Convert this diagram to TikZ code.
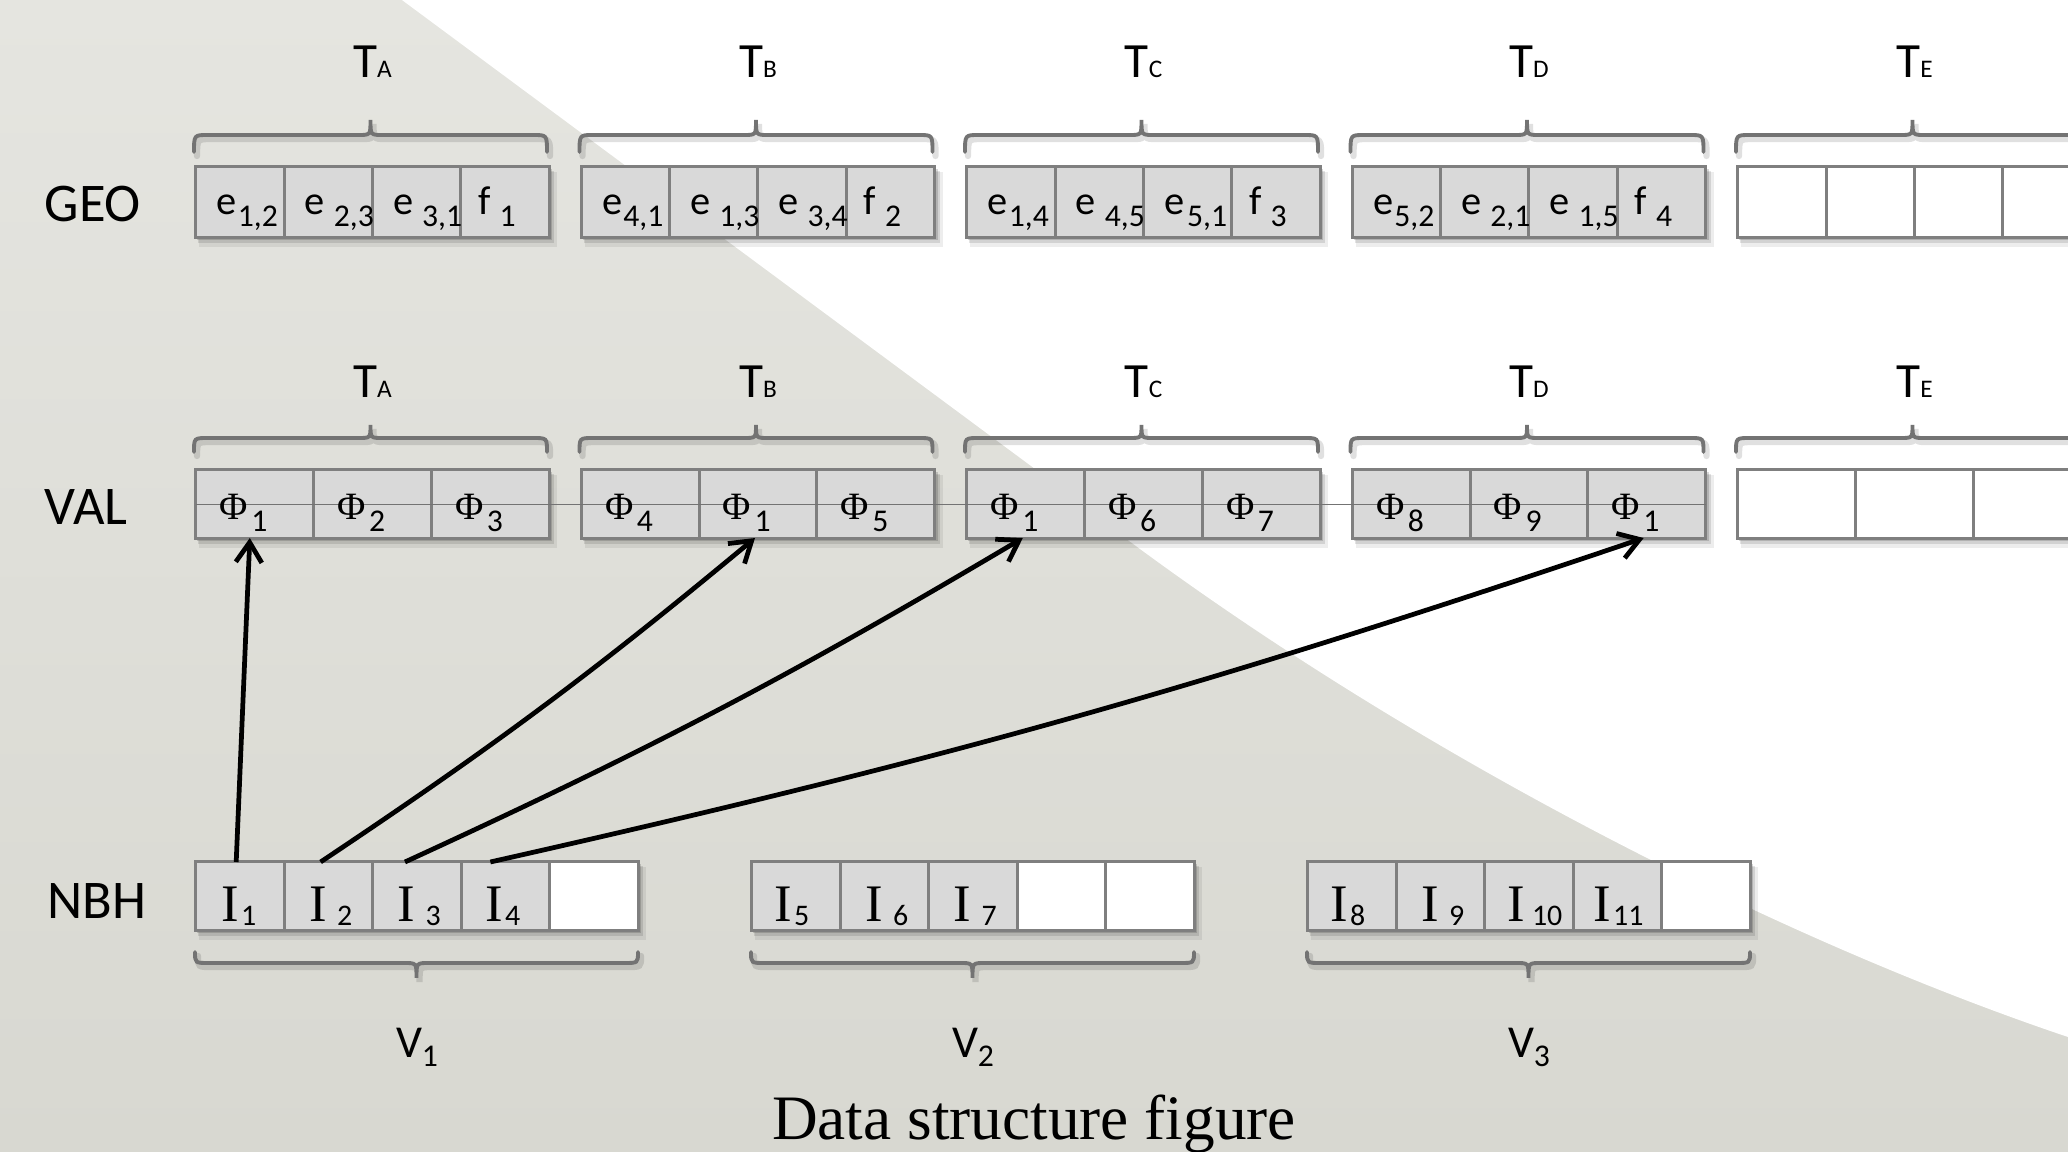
\documentclass[tikz,border=0pt]{standalone}
\usepackage{fontspec}
\setmainfont{Carlito}
\newfontfamily\serif{Liberation Serif}
\usetikzlibrary{arrows.meta,calc}
\definecolor{bgtop}{HTML}{E5E5E0}
\definecolor{bgbot}{HTML}{D8D8D1}
\definecolor{cellfill}{HTML}{D9D9D9}
\definecolor{cellline}{HTML}{7F7F7F}
\definecolor{bracecol}{HTML}{737373}
\newcommand\lsub[2]{\kern#1\raisebox{-3.4pt}{\fontsize{9}{9}\selectfont #2}}
\newcommand\gtext[3]{{\fontsize{11.5}{11.5}\selectfont #1}\lsub{#2}{#3}}
\newcommand\vtext[1]{{\serif\fontsize{11}{11}\selectfont Φ}\lsub{1pt}{#1}}
\newcommand\itext[2]{{\serif\fontsize{15}{15}\selectfont I}\kern#1\raisebox{-1pt}{\fontsize{8.5}{8.5}\selectfont #2}}
\newcommand\tlabel[1]{{\fontsize{14}{14}\selectfont T}{\fontsize{7.2}{7.2}\selectfont #1}}
\newcommand\vlabel[1]{{\fontsize{13}{13}\selectfont V}\raisebox{-2.5pt}{\fontsize{9}{9}\selectfont #1}}
\newcommand\gshadow[4]{%
  \fill[black,opacity=.07] (#1+3,#2+5) rectangle (#3+8,#4+10);
  \fill[black,opacity=.11] (#1+2,#2+4) rectangle (#3+5,#4+6);
  \fill[black,opacity=.15] (#1+1,#2+2) rectangle (#3+3,#4+3);}
\newcommand\mybrace[5]{% xL xR yb ym yt
  \pgfmathsetmacro\xc{(#1+#2)/2}
  \draw[bracestyle,draw=black,opacity=.12,line width=1.8pt,shift={(3,4)}] (#1,#3) .. controls (#1,#4) .. (#1+14,#4) -- (\xc-12,#4) .. controls (\xc,#4) .. (\xc,#5) .. controls (\xc,#4) .. (\xc+12,#4) -- (#2-14,#4) .. controls (#2,#4) .. (#2,#3);
  \draw[bracestyle] (#1,#3) .. controls (#1,#4) .. (#1+14,#4) -- (\xc-12,#4) .. controls (\xc,#4) .. (\xc,#5) .. controls (\xc,#4) .. (\xc+12,#4) -- (#2-14,#4) .. controls (#2,#4) .. (#2,#3);}
\tikzset{
  cellg/.style={draw=cellline, fill=cellfill, line width=0.85pt, inner sep=0pt, outer sep=0pt},
  cellw/.style={cellg, fill=white},
  txt/.style={inner sep=0pt, anchor=base west},
  arr/.style={line width=1.35pt, -{Straight Barb[length=0.2cm,width=0.26cm]}},
  bracestyle/.style={draw=bracecol, line width=1.1pt, line cap=round},
  rowlabel/.style={inner sep=0pt, anchor=base west, font=\fontsize{15.5}{16}\selectfont},
}
\begin{document}
\begin{tikzpicture}[x=0.01cm,y=-0.01cm]
\useasboundingbox (0,0) rectangle (2068,1152);
\clip (0,0) rectangle (2068,1152);
% background
\fill[top color=bgtop, bottom color=bgbot] (0,0) rectangle (2068,1152);
\fill[white] (402,0) -- (1050,480) .. controls (1350,720) and (1750,930) .. (2068,1037) -- (2068,0) -- cycle;

% row labels
\node[rowlabel] (lgeo) at (44,222) {GEO};
\node[rowlabel] (lval) at (44,525) {VAL};
\node[rowlabel] (lnbh) at (47,919) {NBH};

% GEO row
\foreach \g [count=\k from 0] in {A,B,C,D,E}{
  \pgfmathsetmacro\xo{196+385.5*\k}
  \gshadow{\xo}{167}{\xo+353}{237}
  \mybrace{\xo-2}{\xo+351}{152}{135}{120}
  \node[inner sep=0pt, anchor=base] (tg\g) at ({\xo+176.5},78) {\tlabel{\g}};
  \foreach \c in {1,2,3,4}{
    \ifnum\k=4
      \node[cellw, minimum width=0.8825cm, minimum height=0.70cm] (geo\g\c) at ({\xo+88.25*(\c-0.5)},202) {};
    \else
      \node[cellg, minimum width=0.8825cm, minimum height=0.70cm] (geo\g\c) at ({\xo+88.25*(\c-0.5)},202) {};
    \fi
  }
}
\node[txt] (egA1) at ($(geoA1.west)+(20,13)$) {\gtext{e}{0.3pt}{1,2}};
\node[txt] (egA2) at ($(geoA2.west)+(20,13)$) {\gtext{e}{2.5pt}{2,3}};
\node[txt] (egA3) at ($(geoA3.west)+(20,13)$) {\gtext{e}{2.5pt}{3,1}};
\node[txt] (egA4) at ($(geoA4.west)+(17,13)$) {\gtext{f}{2.5pt}{1}};
\node[txt] (egB1) at ($(geoB1.west)+(20,13)$) {\gtext{e}{0.3pt}{4,1}};
\node[txt] (egB2) at ($(geoB2.west)+(20,13)$) {\gtext{e}{2.5pt}{1,3}};
\node[txt] (egB3) at ($(geoB3.west)+(20,13)$) {\gtext{e}{2.5pt}{3,4}};
\node[txt] (egB4) at ($(geoB4.west)+(17,13)$) {\gtext{f}{2.5pt}{2}};
\node[txt] (egC1) at ($(geoC1.west)+(20,13)$) {\gtext{e}{0.3pt}{1,4}};
\node[txt] (egC2) at ($(geoC2.west)+(20,13)$) {\gtext{e}{2.5pt}{4,5}};
\node[txt] (egC3) at ($(geoC3.west)+(20,13)$) {\gtext{e}{0.8pt}{5,1}};
\node[txt] (egC4) at ($(geoC4.west)+(17,13)$) {\gtext{f}{2.5pt}{3}};
\node[txt] (egD1) at ($(geoD1.west)+(20,13)$) {\gtext{e}{0.3pt}{5,2}};
\node[txt] (egD2) at ($(geoD2.west)+(20,13)$) {\gtext{e}{2.5pt}{2,1}};
\node[txt] (egD3) at ($(geoD3.west)+(20,13)$) {\gtext{e}{2.5pt}{1,5}};
\node[txt] (egD4) at ($(geoD4.west)+(17,13)$) {\gtext{f}{2.5pt}{4}};

% VAL row
\foreach \g [count=\k from 0] in {A,B,C,D,E}{
  \pgfmathsetmacro\xo{196+385.5*\k}
  \gshadow{\xo}{470}{\xo+353}{538}
  \mybrace{\xo-2}{\xo+351}{452}{438}{425}
  \node[inner sep=0pt, anchor=base] (tv\g) at ({\xo+176.5},398) {\tlabel{\g}};
  \foreach \c in {1,2,3}{
    \ifnum\k=4
      \node[cellw, minimum width=1.1767cm, minimum height=0.68cm] (val\g\c) at ({\xo+117.67*(\c-0.5)},504) {};
    \else
      \node[cellg, minimum width=1.1767cm, minimum height=0.68cm] (val\g\c) at ({\xo+117.67*(\c-0.5)},504) {};
    \fi
  }
}
\draw[line width=0.2pt, black!55] (valA1.west) -- (valD3.east);
\node[txt] (phA1) at ($(valA1.west)+(23,16)$) {\vtext{1}};
\node[txt] (phA2) at ($(valA2.west)+(23,16)$) {\vtext{2}};
\node[txt] (phA3) at ($(valA3.west)+(23,16)$) {\vtext{3}};
\node[txt] (phB1) at ($(valB1.west)+(23,16)$) {\vtext{4}};
\node[txt] (phB2) at ($(valB2.west)+(23,16)$) {\vtext{1}};
\node[txt] (phB3) at ($(valB3.west)+(23,16)$) {\vtext{5}};
\node[txt] (phC1) at ($(valC1.west)+(23,16)$) {\vtext{1}};
\node[txt] (phC2) at ($(valC2.west)+(23,16)$) {\vtext{6}};
\node[txt] (phC3) at ($(valC3.west)+(23,16)$) {\vtext{7}};
\node[txt] (phD1) at ($(valD1.west)+(23,16)$) {\vtext{8}};
\node[txt] (phD2) at ($(valD2.west)+(23,16)$) {\vtext{9}};
\node[txt] (phD3) at ($(valD3.west)+(23,16)$) {\vtext{1}};

% NBH row
\foreach \k in {1,2,3}{
  \pgfmathsetmacro\xo{196+556*(\k-1)}
  \gshadow{\xo}{862}{\xo+442}{930}
  \mybrace{\xo-1}{\xo+442}{952}{963}{978}
  \node[inner sep=0pt, anchor=base] (vl\k) at ({\xo+221},1058) {\vlabel{\k}};
  \foreach \c in {1,...,5}{
    \node[cellg, minimum width=0.884cm, minimum height=0.68cm] (nbh\k\c) at ({\xo+88.4*(\c-0.5)},896) {};
  }
}
\node[cellw, minimum width=0.884cm, minimum height=0.68cm] at (nbh15) {};
\node[cellw, minimum width=0.884cm, minimum height=0.68cm] at (nbh24) {};
\node[cellw, minimum width=0.884cm, minimum height=0.68cm] at (nbh25) {};
\node[cellw, minimum width=0.884cm, minimum height=0.68cm] at (nbh35) {};
\node[txt] (in11) at ($(nbh11.west)+(25,26)$) {\itext{0.5pt}{1}};
\node[txt] (in12) at ($(nbh12.west)+(24,26)$) {\itext{3pt}{2}};
\node[txt] (in13) at ($(nbh13.west)+(24,26)$) {\itext{3pt}{3}};
\node[txt] (in14) at ($(nbh14.west)+(24,26)$) {\itext{0.5pt}{4}};
\node[txt] (in21) at ($(nbh21.west)+(22,26)$) {\itext{0.5pt}{5}};
\node[txt] (in22) at ($(nbh22.west)+(24,26)$) {\itext{3pt}{6}};
\node[txt] (in23) at ($(nbh23.west)+(24,26)$) {\itext{3pt}{7}};
\node[txt] (in31) at ($(nbh31.west)+(22,26)$) {\itext{0.5pt}{8}};
\node[txt] (in32) at ($(nbh32.west)+(24,26)$) {\itext{3pt}{9}};
\node[txt] (in33) at ($(nbh33.west)+(22,26)$) {\itext{2pt}{10}};
\node[txt] (in34) at ($(nbh34.west)+(20,26)$) {\itext{0.5pt}{11}};

% arrows
\draw[arr] ([xshift=-0.04cm]nbh11.north) -- ([xshift=-0.05cm]valA1.south);
\draw[arr] ([xshift=-0.08cm]nbh12.north) to[bend right=3] ([xshift=-0.03cm]valB2.south);
\draw[arr] ([xshift=-0.12cm]nbh13.north) to[bend right=3] ([xshift=-0.03cm]valC1.south);
\draw[arr] ([xshift=-0.15cm]nbh14.north) to[bend right=3] ([xshift=-0.03cm]valD3.south);

% caption
\node[inner sep=0pt, anchor=base] (cap) at (1034,1140) {\serif\fontsize{18}{18}\selectfont Data structure figure};
\end{tikzpicture}
\end{document}
